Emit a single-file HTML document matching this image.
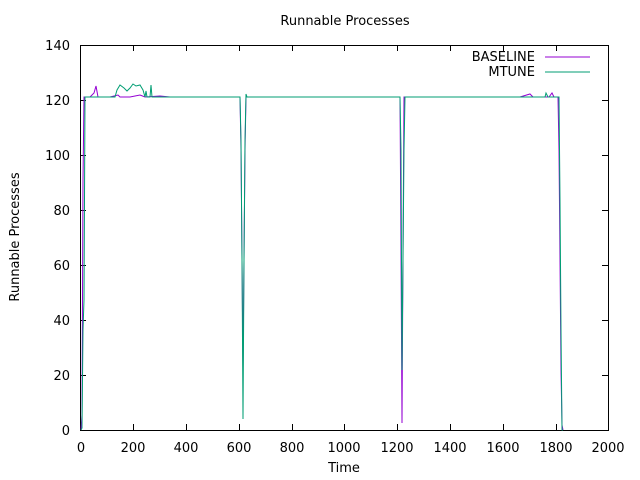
<!DOCTYPE html>
<html><head><meta charset="utf-8"><style>
body{margin:0;background:#fff}
svg{display:block;font-family:"DejaVu Sans","Liberation Sans",sans-serif}
</style></head><body>
<svg width="640" height="480" viewBox="0 0 640 480">
<rect width="640" height="480" fill="#fff"/>
<text x="345" y="25" font-size="13" text-anchor="middle">Runnable Processes</text>
<text x="344" y="472" font-size="13" text-anchor="middle">Time</text>
<text transform="translate(19,237) rotate(-90)" font-size="13" text-anchor="middle">Runnable Processes</text>
<g font-size="13" text-anchor="end">
<text x="70" y="435">0</text><text x="70" y="380">20</text><text x="70" y="325">40</text><text x="70" y="270">60</text><text x="70" y="215">80</text><text x="70" y="160">100</text><text x="70" y="105">120</text><text x="70" y="50">140</text>
</g>
<g font-size="13" text-anchor="middle">
<text x="81" y="452">0</text><text x="133" y="452">200</text><text x="186" y="452">400</text><text x="239" y="452">600</text><text x="292" y="452">800</text><text x="344" y="452">1000</text><text x="397" y="452">1200</text><text x="450" y="452">1400</text><text x="503" y="452">1600</text><text x="556" y="452">1800</text><text x="608" y="452">2000</text>
</g>
<g stroke="#000" stroke-width="1" fill="none">
<path d="M80.5,45.5H608.5V430.5H80.5Z"/>
<path d="M80.5,430v-6M133.5,430v-6M186.5,430v-6M239.5,430v-6M292.5,430v-6M344.5,430v-6M397.5,430v-6M450.5,430v-6M503.5,430v-6M556.5,430v-6M80.5,45v6M133.5,45v6M186.5,45v6M239.5,45v6M292.5,45v6M344.5,45v6M397.5,45v6M450.5,45v6M503.5,45v6M556.5,45v6M608.5,45v6"/>
<path d="M80,430.5h6M80,375.5h6M80,320.5h6M80,265.5h6M80,210.5h6M80,155.5h6M80,100.5h6M80,45.5h6M608,430.5h-6M608,375.5h-6M608,320.5h-6M608,265.5h-6M608,210.5h-6M608,155.5h-6M608,100.5h-6M608,45.5h-6"/>
</g>
<g font-size="13" text-anchor="end">
<text x="535" y="61">BASELINE</text><text x="535" y="76">MTUNE</text>
</g>
<line x1="545" y1="57" x2="590" y2="57" stroke="#9400d3"/>
<line x1="545" y1="72" x2="590" y2="72" stroke="#009e73"/>
<polyline fill="none" stroke="#9400d3" stroke-width="1" points="81,430 82,415 83,180 84,97 90,97 94,93 96,86 98,97 110,97 118,95 120,97 130,97 140,95 145,97 160,96 170,97 240,97 241,150 242,260 243,368 244,260 245,150 246,97 400,97 401,250 402,423 403,250 404,97 520,97 530,94 533,97 549,97 552,93 554,97 558,97 559,150 560,260 561,370 562,425 563,430"/>
<polyline fill="none" stroke="#009e73" stroke-width="1" points="81,430 82,428 83,330 84,300 85,97 115,97 117,90 120,85 124,88 127,91 130,88 133,84 136,86 140,85 143,90 145,97 146,91 147,97 150,97 151,85 152,97 160,97 240,97 241,140 242,260 243,419 244,260 245,140 246,94 247,97 400,97 401,150 402,370 403,260 404,150 405,97 545,97 546,93 548,97 559,97 560,200 561,330 562,430 563,430"/>
</svg>
</body></html>
